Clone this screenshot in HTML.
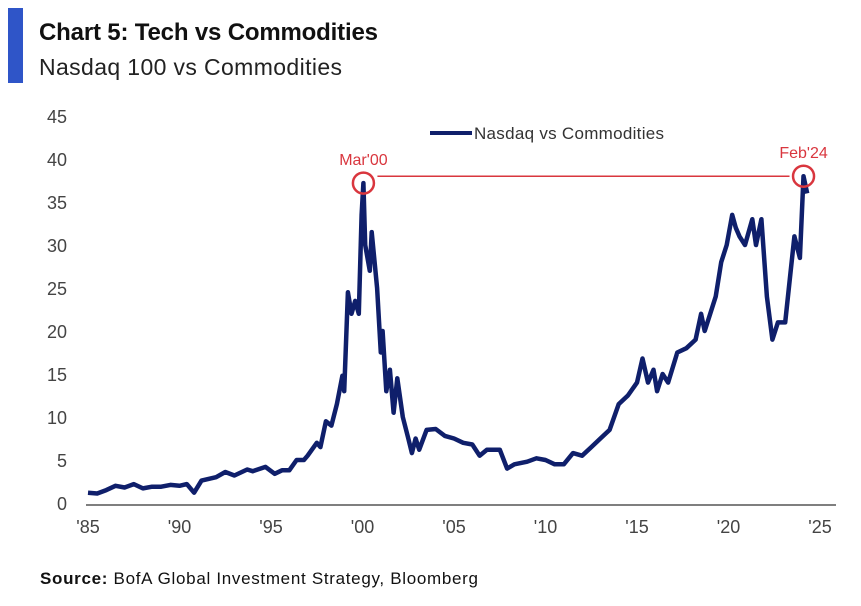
<!DOCTYPE html>
<html><head><meta charset="utf-8"><style>
body{margin:0;background:#fff;width:861px;height:601px;overflow:hidden;font-family:"Liberation Sans",sans-serif}
</style></head><body>
<svg width="861" height="601">
<rect x="8" y="8" width="15" height="75" fill="#2f55c8"/>
<text x="39" y="40" font-size="24" font-weight="bold" fill="#111" textLength="339">Chart 5: Tech vs Commodities</text>
<text x="39" y="75" font-size="23" fill="#222" textLength="303">Nasdaq 100 vs Commodities</text>
<g id="yaxis"></g>
<g id="xaxis"></g>
<line x1="430" y1="133" x2="472" y2="133" stroke="#0f1f6b" stroke-width="4"/>
<text x="474" y="139" font-size="17" fill="#333" textLength="190">Nasdaq vs Commodities</text>
<g id="plot"></g>
<text x="40" y="584" font-size="17" fill="#111" textLength="438"><tspan font-weight="bold">Source:</tspan> BofA Global Investment Strategy, Bloomberg</text>
</svg>
<script>
const years=[1985,1985.5,1986,1986.5,1987,1987.5,1988,1988.5,1989,1989.5,1990,1990.4,1990.8,1991.2,1992,1992.5,1993,1993.7,1994,1994.7,1995.2,1995.6,1996,1996.4,1996.8,1997,1997.5,1997.7,1998,1998.3,1998.6,1998.9,1999,1999.2,1999.4,1999.6,1999.8,1999.95,2000.05,2000.15,2000.4,2000.5,2000.8,2001,2001.1,2001.3,2001.5,2001.7,2001.9,2002.2,2002.5,2002.7,2002.9,2003.1,2003.5,2004,2004.5,2005,2005.5,2006,2006.4,2006.8,2007.5,2007.9,2008.3,2009,2009.5,2010,2010.5,2011,2011.5,2012,2012.5,2013,2013.5,2014,2014.5,2015,2015.3,2015.6,2015.9,2016.1,2016.4,2016.7,2017.2,2017.7,2018.2,2018.5,2018.7,2019,2019.3,2019.6,2019.9,2020.2,2020.4,2020.6,2020.9,2021.3,2021.5,2021.8,2022.1,2022.4,2022.7,2023.1,2023.4,2023.6,2023.9,2024.1,2024.3];
const values=[1.2,1.1,1.5,2.0,1.8,2.2,1.7,1.9,1.9,2.1,2.0,2.2,1.2,2.6,3.0,3.6,3.2,3.9,3.7,4.2,3.4,3.8,3.8,5.0,5.0,5.5,7.0,6.5,9.5,9.0,11.5,14.8,13,24.5,22,23.5,22,33.5,37.2,30,27,31.5,25,17.5,20,13,15.5,10.5,14.5,10,7.5,5.8,7.5,6.2,8.5,8.6,7.8,7.5,7.0,6.8,5.5,6.2,6.2,4.0,4.5,4.8,5.2,5.0,4.5,4.5,5.8,5.5,6.5,7.5,8.5,11.5,12.5,14,16.8,14,15.5,13,15,14,17.5,18,19,22,20,22,24,28,30,33.5,32,31,30,33,30,33,24,19,21,21,27,31,28.5,38,36];
const yTicks=[0,5,10,15,20,25,30,35,40,45];
const xTicks=[1985,1990,1995,2000,2005,2010,2015,2020,2025];
const xLabels=["'85","'90","'95","'00","'05","'10","'15","'20","'25"];
const peaks=[{year:2000.05,value:37.2,label:"Mar'00"},{year:2024.1,value:38,label:"Feb'24"}];
const X=y=>88+(y-1985)*18.3, Y=v=>503-v*8.6;
const NS="http://www.w3.org/2000/svg";
function mk(t,a,p){const e=document.createElementNS(NS,t);for(const k in a)e.setAttribute(k,a[k]);p.appendChild(e);return e;}
const ya=document.getElementById('yaxis'),xa=document.getElementById('xaxis'),pl=document.getElementById('plot');
yTicks.forEach(v=>{const t=mk('text',{x:67,y:Y(v)+7,'font-size':18,fill:'#444','text-anchor':'end'},ya);t.textContent=v;

});
const ax=mk('line',{x1:86,x2:836,y1:505,y2:505,stroke:'#555','stroke-width':1.5},xa);


xTicks.forEach((y,i)=>{const t=mk('text',{x:X(y),y:533,'font-size':18,fill:'#444','text-anchor':'middle'},xa);t.textContent=xLabels[i];

});
const d=years.map((y,i)=>(i?'L':'M')+X(y).toFixed(1)+','+Y(values[i]).toFixed(1)).join('');
const ln=mk('path',{d:d,fill:'none',stroke:'#0f1f6b','stroke-width':4.5,'stroke-linejoin':'round'},pl);


const ref=mk('line',{x1:X(peaks[0].year)+14,x2:X(peaks[1].year)-14,y1:Y(peaks[1].value),y2:Y(peaks[1].value),stroke:'#d9363e','stroke-width':1.5},pl);


peaks.forEach(p=>{const c=mk('circle',{cx:X(p.year),cy:Y(p.value),r:10.5,fill:'none',stroke:'#d9363e','stroke-width':2.5},pl);


const t=mk('text',{x:X(p.year),y:Y(p.value)-18,'font-size':16,fill:'#d9363e','text-anchor':'middle'},pl);t.textContent=p.label;

});
</script>
</body></html>
